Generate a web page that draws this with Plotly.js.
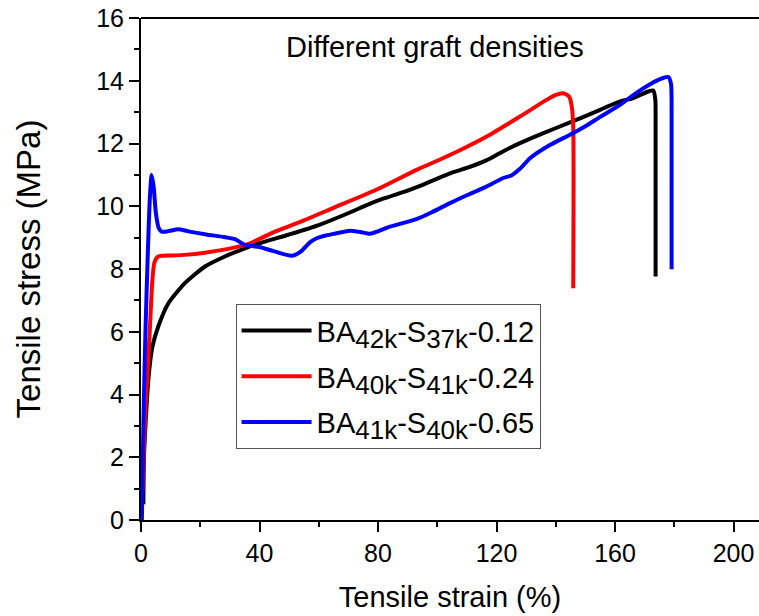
<!DOCTYPE html>
<html>
<head>
<meta charset="utf-8">
<script src="https://cdn.plot.ly/plotly-3.0.1.min.js"></script>
<style>
  html, body { margin: 0; padding: 0; background: #fff; }
  #chart { width: 759px; height: 616px; }
</style>
</head>
<body>
<div id="chart"></div>
<script>
// Stress–strain curves (strain in %, stress in MPa)
const SUB = s => '<sub><span style="font-size:26px">' + s + '</span></sub>';
const seriesNames = [
  'BA' + SUB('42k') + '-S' + SUB('37k') + '-0.12',
  'BA' + SUB('40k') + '-S' + SUB('41k') + '-0.24',
  'BA' + SUB('41k') + '-S' + SUB('40k') + '-0.65'
];
const seriesColors = ['#000000', '#ff0000', '#0000ff'];

const strainA = [0.8, 1.0, 1.8, 2.5, 3.8, 5.8, 9.2, 14.8, 21.6, 28.3, 35.1, 40, 50, 60, 70.5, 76, 81.7, 90, 94.2, 104.3, 110, 116.7, 122, 127.9, 135, 144.8, 152, 161.7, 166.2, 171, 172.9, 173.6, 173.7, 173.7];
const stressA = [0.5, 2.0, 3.5, 4.5, 5.5, 6.16, 6.9, 7.55, 8.08, 8.4, 8.66, 8.82, 9.1, 9.4, 9.8, 10.03, 10.24, 10.5, 10.65, 11.05, 11.22, 11.47, 11.74, 12.01, 12.3, 12.67, 12.95, 13.34, 13.45, 13.65, 13.69, 13.4, 12.5, 7.76];

const strainB = [0.5, 0.9, 1.5, 2.5, 3.2, 3.8, 4.5, 5.5, 7, 10, 14.8, 21.6, 31.7, 36.8, 45.2, 55, 65, 80, 93, 100, 108, 116.7, 127.9, 136.9, 140, 142.5, 144.5, 145.4, 145.9, 145.9];
const stressB = [0.9, 2.0, 3.5, 5.2, 6.5, 7.6, 8.2, 8.38, 8.42, 8.43, 8.45, 8.52, 8.69, 8.82, 9.19, 9.55, 9.95, 10.55, 11.16, 11.45, 11.8, 12.22, 12.86, 13.39, 13.55, 13.6, 13.5, 13.18, 12.5, 7.39];

const strainC = [0.3, 0.8, 1.5, 2.3, 3.0, 3.6, 4.3, 5.0, 6.0, 7.0, 9.0, 12.6, 16, 22, 28, 31.7, 35.1, 40, 45, 50.8, 54, 57, 59.3, 62, 65, 70.5, 74, 77.3, 80, 84, 93, 98, 104.3, 110, 116, 122.3, 125, 128, 131.3, 138, 144.8, 150, 155, 161.7, 167, 172, 176, 178, 178.9, 179.1, 179.1];
const stressC = [0, 3.0, 6.0, 8.5, 10.3, 11.0, 10.6, 9.8, 9.3, 9.19, 9.2, 9.27, 9.2, 9.1, 9.02, 8.95, 8.77, 8.7, 8.56, 8.42, 8.56, 8.85, 8.98, 9.06, 9.12, 9.22, 9.18, 9.12, 9.2, 9.35, 9.59, 9.8, 10.1, 10.35, 10.6, 10.9, 10.98, 11.2, 11.53, 11.95, 12.28, 12.55, 12.85, 13.23, 13.6, 13.9, 14.08, 14.12, 13.9, 13.0, 7.99];

const xTicks = [0, 40, 80, 120, 160, 200];
const yTicks = [0, 2, 4, 6, 8, 10, 12, 14, 16];

const FONT = 'Liberation Sans, Arial, sans-serif';
const strains = [strainA, strainB, strainC];
const stresses = [stressA, stressB, stressC];

const traces = strains.map((xs, i) => ({
  type: 'scatter',
  mode: 'lines',
  x: xs,
  y: stresses[i],
  name: seriesNames[i],
  legendgroup: 'g' + i,
  line: { color: seriesColors[i], width: 4, shape: 'spline', smoothing: 0.6 }
}));

const axisCommon = {
  showline: true,
  linecolor: '#000',
  linewidth: 2,
  ticks: 'outside',
  ticklen: 10,
  tickwidth: 2,
  tickcolor: '#000',
  showgrid: false,
  zeroline: false,
  tickfont: { family: FONT, size: 25, color: '#000' }
};

const layout = {
  width: 759,
  height: 616,
  margin: { l: 141, r: 0, t: 18, b: 96 },
  paper_bgcolor: '#fff',
  plot_bgcolor: '#fff',
  showlegend: true,
  legend: {
    x: 0.153, y: 0.43, xanchor: 'left', yanchor: 'top',
    bordercolor: '#555', borderwidth: 1, bgcolor: '#fff',
    font: { family: FONT, size: 29, color: '#000' },
    itemwidth: 70,
    traceorder: 'grouped',
    tracegroupgap: 5
  },
  xaxis: Object.assign({}, axisCommon, {
    range: [0, 208.6],
    tickvals: xTicks,
    ticktext: xTicks.map(String),
    minor: { dtick: 20, tick0: 0, ticks: 'outside', ticklen: 5, tickwidth: 2, tickcolor: '#000' },
    title: { text: 'Tensile strain (%)', font: { family: FONT, size: 29, color: '#000' }, standoff: 21 }
  }),
  yaxis: Object.assign({}, axisCommon, {
    range: [0, 16],
    tickvals: yTicks,
    ticktext: yTicks.map(String),
    minor: { dtick: 1, tick0: 0, ticks: 'outside', ticklen: 5, tickwidth: 2, tickcolor: '#000' },
    title: { text: 'Tensile stress (MPa)', font: { family: FONT, size: 33, color: '#000' }, standoff: 46 }
  }),
  shapes: [
    { type: 'line', xref: 'paper', yref: 'paper', x0: 0, x1: 1, y0: 1, y1: 1,
      line: { color: '#000', width: 2 } }
  ],
  annotations: [
    { text: 'Different graft densities', xref: 'paper', yref: 'paper',
      x: 0.476, y: 0.942, xanchor: 'center', yanchor: 'middle', showarrow: false,
      font: { family: FONT, size: 29, color: '#000' } }
  ]
};

Plotly.newPlot('chart', traces, layout, { displayModeBar: false, staticPlot: true });
</script>
</body>
</html>
